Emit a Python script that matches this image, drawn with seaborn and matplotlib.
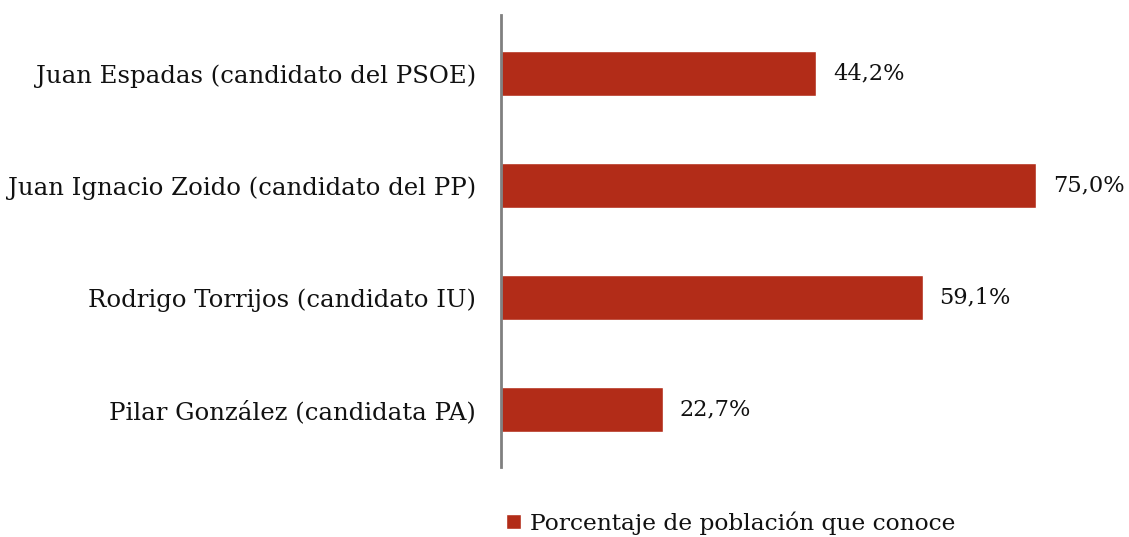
import matplotlib
matplotlib.use("Agg")
import matplotlib.pyplot as plt
import seaborn as sns
import pandas as pd

candidatos = [
    "Juan Espadas (candidato del PSOE)",
    "Juan Ignacio Zoido (candidato del PP)",
    "Rodrigo Torrijos (candidato IU)",
    "Pilar González (candidata PA)",
]
valores = [44.2, 75.0, 59.1, 22.7]
serie = "Porcentaje de población que conoce"

df = pd.DataFrame({"candidato": candidatos, "valor": valores, "serie": [serie] * len(valores)})

sns.set_theme(style="white")
plt.rcParams["font.family"] = ["DejaVu Serif"]

fig = plt.figure(figsize=(11.29, 5.37), dpi=100)
ax = fig.add_axes([501 / 1129, 1 - 467 / 537, 571 / 1129, 452 / 537])

color = "#B22C18"
sns.barplot(data=df, y="candidato", x="valor", hue="serie", palette=[color],
            orient="h", width=0.40, dodge=False, ax=ax, saturation=1)

ax.set_xlim(0, 80)
ax.set_ylim(3.51, -0.52)
ax.set_xlabel("")
ax.set_ylabel("")
ax.set_xticks([])
for s in ["top", "right", "bottom"]:
    ax.spines[s].set_visible(False)
ax.spines["left"].set_color("#808080")
ax.spines["left"].set_linewidth(2)
ax.tick_params(axis="y", length=0, pad=18, labelsize=17.6, labelcolor="#111111")

for cont in ax.containers:
    ax.bar_label(cont, labels=[f"{v:.1f}%".replace(".", ",") for v in valores],
                 padding=12, fontsize=16.2, color="#111111")

leg = ax.legend(loc="center left", frameon=False, fontsize=16.8, handlelength=0.65,
                handleheight=0.65, handletextpad=0.4, borderaxespad=0, borderpad=0,
                labelcolor="#111111")
leg.set_bbox_to_anchor((506 / 1129, 1 - 523 / 537), transform=fig.transFigure)

fig.savefig("out.png", dpi=100)
